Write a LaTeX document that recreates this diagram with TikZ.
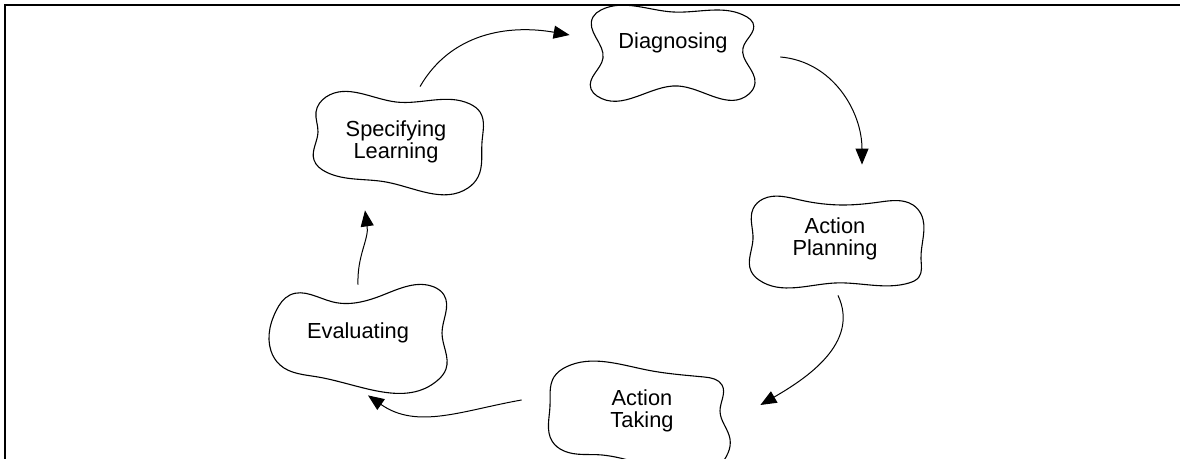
\documentclass[tikz,border=0pt]{standalone}
\usepackage{fontspec}
\setmainfont{Liberation Sans}
\usetikzlibrary{arrows.meta, calc, hobby}

\begin{document}
\begin{tikzpicture}[x=0.5pt,y=0.5pt,
   stage/.style={align=center,minimum width=84pt,minimum height=45pt,inner sep=0pt,
     font=\fontsize{10.9}{11}\selectfont},
   outline/.style={draw,line width=0.55pt,closed hobby},
   flow/.style={-{Triangle[length=8pt,width=6.5pt]},line width=0.5pt}
  ]
 \useasboundingbox (0,0) rectangle (1180,459);
 % frame
 \draw[line width=1.1pt] (1180,454) -- (5,454) -- (5,0);

 \node[stage,text depth=12pt] (diag) at (673,406) {Diagnosing};
 \node[stage] (plan) at (835,220) {Action\\Planning};
 \node[stage] (taking) at (642,48) {Action\\Taking};
 \node[stage] (eval) at (358,126) {Evaluating};
 \node[stage] (spec) at (396,317) {Specifying\\Learning};

 % wobbly outlines
 \draw[outline,shift={(diag.center)}] plot coordinates {(-80,36) (-72,43) (0,41) (74,36) (80,30)
   (70,5) (82,-30) (76,-41) (5,-33) (-76,-43) (-82,-36) (-70,-5)};
 \draw[outline,shift={(spec.center)}] plot coordinates {(-80,30) (-70,45) (0,40) (74,38) (84,30)
   (86,0) (82,-35) (72,-46) (-10,-40) (-70,-30) (-82,-18) (-78,10)};
 \draw[outline,shift={(plan.center)}] plot coordinates {(-82,30) (-72,40) (-35,39) (10,34) (45,37)
   (78,34) (86,25) (86,-20) (84,-38) (74,-44) (0,-44) (-76,-41) (-84,-32) (-82,0)};
 \draw[outline,shift={(taking.center)}] plot coordinates {(-88,34) (-76,44) (5,41) (62,34) (80,26)
   (78,0) (88,-28) (86,-42) (-40,-44) (-78,-40) (-90,-30) (-92,5)};
 \draw[outline,shift={(eval.center)}] plot coordinates {(-82,22) (-68,38) (-25,31) (25,38) (76,46)
   (86,38) (84,0) (88,-36) (80,-47) (-40,-44) (-78,-32) (-87,-18) (-88,5)};

 % the cycle
 \draw[flow] ($(spec.north)+(24,10)$) to[out=60,in=170] ($(diag.west)+(-19,18)$);
 \draw[flow] ($(diag.east)+(23,-4)$) to[out=-5,in=90] ($(plan.north)+(27,29)$);
 \draw[flow] ($(plan.south)+(3,-11)$) to[out=-65,in=30] ($(taking.east)+(34,6)$);
 \draw[flow] ($(taking.west)+(-36,11)$) to[out=190,in=-35] ($(eval.south)+(10,-17)$);
 \draw[flow] ($(eval.north)+(0,3)$) to[out=92,in=-82] ($(spec.south)+(-31,-23)$);
\end{tikzpicture}
\end{document}
